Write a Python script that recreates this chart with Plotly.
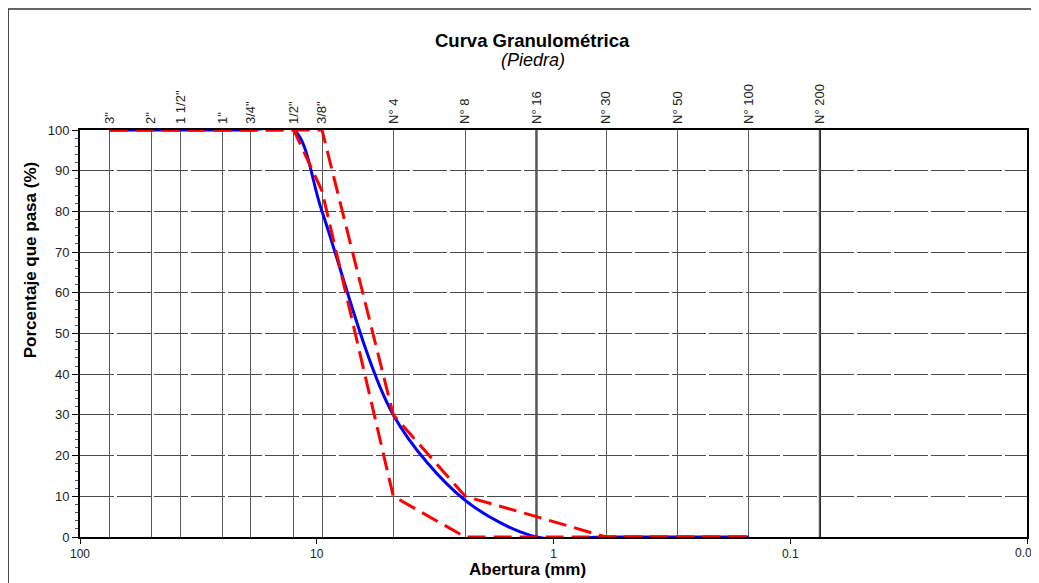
import plotly.graph_objects as go

# ---- data ----
sieve_labels = ['3"', '2"', '1 1/2"', '1"', '3/4"', '1/2"', '3/8"',
                'N° 4', 'N° 8', 'N° 16', 'N° 30', 'N° 50', 'N° 100', 'N° 200']
sieve_mm = [75, 50, 37.5, 25, 19, 12.5, 9.5, 4.75, 2.36, 1.18, 0.6, 0.3, 0.15, 0.075]

curve_mm = [75, 50, 37.5, 25, 19, 12.5, 9.5, 4.75, 2.36, 1.18, 0.6, 0.3, 0.15]
passing = [100, 100, 100, 100, 100, 100, 80, 30, 9, 0, 0, 0, 0]
upper_limit = [100, 100, 100, 100, 100, 100, 100, 30, 10, 5, 0, 0, 0]
lower_limit = [100, 100, 100, 100, 100, 100, 85, 10, 0, 0, 0, 0, 0]

decade_ticks = [100, 10, 1, 0.1, 0.01]
decade_text = ["100", "10", "1", "0.1", "0.01"]
dark_sieves = ['N° 16', 'N° 200']

FONT = "Liberation Sans, Arial, sans-serif"

fig = go.Figure()

fig.add_trace(go.Scatter(
    x=curve_mm, y=passing, mode="lines", line=dict(color="#0000FF", width=3, shape="spline", smoothing=0.9),
    cliponaxis=False, showlegend=False, hoverinfo="skip"))
fig.add_trace(go.Scatter(
    x=curve_mm, y=upper_limit, mode="lines", line=dict(color="#FF0000", width=3, dash="18px,8px"),
    cliponaxis=False, showlegend=False, hoverinfo="skip"))
fig.add_trace(go.Scatter(
    x=curve_mm, y=lower_limit, mode="lines", line=dict(color="#FF0000", width=3, dash="18px,8px"),
    cliponaxis=False, showlegend=False, hoverinfo="skip", xaxis="x2"))

# darker vertical lines for selected sieves
for lab in dark_sieves:
    xv = sieve_mm[sieve_labels.index(lab)]
    fig.add_shape(type="line", xref="x", yref="paper", x0=xv, x1=xv, y0=0, y1=1,
                  line=dict(color="#000000", width=2), layer="below")

# outer frame
fig.add_shape(type="rect", xref="paper", yref="paper", x0=-0.0759, x1=1.05, y0=-0.2, y1=1.2973,
              line=dict(color="#333333", width=1.5), fillcolor="rgba(0,0,0,0)", layer="below")

fig.update_layout(
    width=1031, height=575,
    margin=dict(l=72, r=10, t=122, b=46),
    paper_bgcolor="white", plot_bgcolor="white",
    font=dict(family=FONT, size=13, color="#222222"),
    xaxis=dict(type="log", range=[2, -2], tickvals=decade_ticks, ticktext=decade_text,
               showgrid=False, zeroline=False, showline=True, linecolor="#000000", linewidth=2,
               mirror=True, ticks="outside", ticklen=5, tickcolor="#000000",
               tickfont=dict(size=12, color="#222222")),
    xaxis2=dict(type="log", range=[2, -2], overlaying="x", side="top", anchor="y",
                tickvals=sieve_mm, ticktext=sieve_labels, tickangle=-90, ticklabelstandoff=5,
                showgrid=True, gridcolor="#5a5a5a", gridwidth=1, zeroline=False,
                showline=False, ticks="", tickfont=dict(size=13, color="#222222")),
    yaxis=dict(range=[0, 100], dtick=10, showgrid=True, gridcolor="#4a4a4a", gridwidth=1,
               griddash="34px,3px", zeroline=False, showline=True, linecolor="#000000",
               linewidth=2, mirror=True, ticks="outside", ticklen=6, tickcolor="#000000",
               minor=dict(dtick=2, ticks="outside", ticklen=3, tickcolor="#555555", showgrid=False),
               tickfont=dict(size=13, color="#222222")),
    annotations=[
        dict(text="<b>Curva Granulométrica</b>", xref="paper", yref="paper", x=0.478, y=1.221,
             xanchor="center", yanchor="middle",
             showarrow=False, font=dict(size=18.5, color="#000000", family=FONT)),
        dict(text="<i>(Piedra)</i>", xref="paper", yref="paper", x=0.478, y=1.172,
             xanchor="center", yanchor="middle",
             showarrow=False, font=dict(size=18, color="#000000", family=FONT)),
        dict(text="<b>Porcentaje que pasa (%)</b>", xref="paper", yref="paper", x=-0.0527, y=0.68,
             xanchor="center", yanchor="middle",
             showarrow=False, textangle=-90, font=dict(size=17, color="#000000", family=FONT)),
        dict(text="<b>Abertura (mm)</b>", xref="paper", yref="paper", x=0.473, y=-0.0795,
             xanchor="center", yanchor="middle",
             showarrow=False, font=dict(size=17, color="#000000", family=FONT)),
        # last decade label that sits at the right edge (partly cut off, as in the reference)
        dict(text=decade_text[-1], xref="x", yref="paper", x=-2, y=-0.0175,
             xanchor="center", yanchor="top", showarrow=False,
             font=dict(size=12, color="#222222", family=FONT)),
    ],
)

fig.write_html("out.html")
